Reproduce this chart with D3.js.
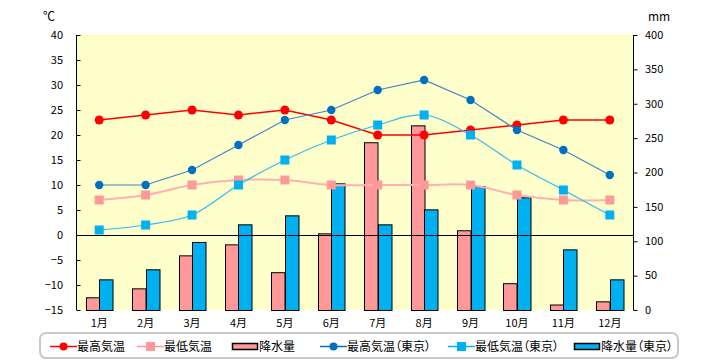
<!DOCTYPE html>
<html><head><meta charset="utf-8">
<script src="https://cdn.jsdelivr.net/npm/d3@7"></script>
<style>
body{margin:0;background:#fff;}
text{font-family:"Noto Sans CJK JP","Noto Sans",sans-serif;font-feature-settings:"palt";fill:#000;}
</style></head><body>
<svg id="c" width="720" height="360"></svg>
<script>
const months = ["1月","2月","3月","4月","5月","6月","7月","8月","9月","10月","11月","12月"];
const maxTemp = [23,24,25,24,25,23,20,20,21,22,23,23];
const minTemp = [7,8,10,11,11,10,10,10,10,8,7,7];
const precip = [18.5,31.5,79.5,95.5,55,111.5,244,268.6,116,39,8,12.6];
const maxTempTokyo = [10,10,13,18,23,25,29,31,27,21,17,12];
const minTempTokyo = [1,2,4,10,15,19,22,24,20,14,9,4];
const precipTokyo = [44.6,59.2,99,124.6,137.7,184.2,124.6,146.4,180.4,163.9,88.2,44.6];
const tempTicks = [-15,-10,-5,0,5,10,15,20,25,30,35,40];
const precipTicks = [0,50,100,150,200,250,300,350,400];
const seriesNames = ["最高気温","最低気温","降水量","最高気温（東京）","最低気温（東京）","降水量（東京）"];

const svg = d3.select("#c");
const L=76, R=633, T=35, B=310;
const x = d3.scaleBand().domain(months).range([L,R]);
const yT = d3.scaleLinear().domain([-15,40]).range([B,T]);
const yP = d3.scaleLinear().domain([0,400]).range([B,T]);

svg.append("rect").attr("x",L).attr("y",T).attr("width",R-L).attr("height",B-T).attr("fill","#FFFFCC");
svg.append("line").attr("x1",L).attr("x2",R).attr("y1",T+0.5).attr("y2",T+0.5).attr("stroke","#FFFF99");

// bars
const bw = 13.5;
const cx = m => x(m)+x.bandwidth()/2;
svg.append("g").selectAll("rect").data(precip).join("rect")
  .attr("x",(d,i)=>Math.round(cx(months[i])-bw)+0.5).attr("width",bw)
  .attr("y",d=>yP(d)+0.5).attr("height",d=>B-yP(d))
  .attr("fill","#FF9999").attr("stroke","#000").attr("stroke-width",1);
svg.append("g").selectAll("rect").data(precipTokyo).join("rect")
  .attr("x",(d,i)=>Math.round(cx(months[i]))+0.5).attr("width",bw)
  .attr("y",d=>yP(d)+0.5).attr("height",d=>B-yP(d))
  .attr("fill","#00B0F0").attr("stroke","#000").attr("stroke-width",1);

// zero line
svg.append("line").attr("x1",L).attr("x2",R).attr("y1",yT(0)+0.5).attr("y2",yT(0)+0.5).attr("stroke","#000");

// axes
const gl = svg.append("g").attr("transform",`translate(${L+0.5},0)`)
  .call(d3.axisRight(yT).tickValues(tempTicks).tickSize(4).tickFormat(""));
gl.select(".domain").remove();
svg.append("line").attr("x1",L+0.5).attr("x2",L+0.5).attr("y1",T).attr("y2",B).attr("stroke","#000");
svg.append("g").selectAll("text").data(tempTicks).join("text")
  .attr("x",63).attr("y",d=>yT(d)).attr("dy","0.35em").attr("text-anchor","end")
  .attr("font-size",11).text(d=>d<0?"−"+Math.abs(d):d);
const gr = svg.append("g").attr("transform",`translate(${R+0.5},0)`)
  .call(d3.axisRight(yP).tickValues(precipTicks).tickSize(4).tickFormat(""));
gr.select(".domain").remove();
svg.append("line").attr("x1",R+0.5).attr("x2",R+0.5).attr("y1",T).attr("y2",B).attr("stroke","#000");
svg.append("g").selectAll("text").data(precipTicks).join("text")
  .attr("x",645).attr("y",d=>yP(d)).attr("dy","0.35em").attr("text-anchor","start")
  .attr("font-size",11).text(d=>d);
svg.append("g").selectAll("text").data(months).join("text")
  .attr("x",d=>cx(d)).attr("y",323).attr("dy","0.35em").attr("text-anchor","middle")
  .attr("font-size",11).text(d=>d);
svg.append("text").attr("x",43).attr("y",21).attr("font-size",12).text("℃");
svg.append("text").attr("x",648).attr("y",21).attr("font-size",12).text("mm");

// lines
function series(vals,color,lineColor,lw,shape,smooth,size){
  const line = d3.line().x((d,i)=>cx(months[i])).y(d=>yT(d))
    .curve(smooth ? d3.curveCatmullRom.alpha(0.5) : d3.curveLinear);
  svg.append("path").datum(vals).attr("d",line).attr("fill","none").attr("stroke",lineColor).attr("stroke-width",lw);
  const g = svg.append("g");
  if(shape==="circle"){
    g.selectAll("circle").data(vals).join("circle").attr("cx",(d,i)=>cx(months[i])).attr("cy",d=>yT(d)).attr("r",size).attr("fill",color);
  } else {
    g.selectAll("rect").data(vals).join("rect").attr("x",(d,i)=>cx(months[i])-size).attr("y",d=>yT(d)-size).attr("width",size*2).attr("height",size*2).attr("fill",color);
  }
}
series(minTemp,"#FF9999","#FFB0B0",2,"square",true,4.5);
series(maxTemp,"#FF0000","#FF0000",1.5,"circle",false,4.5);
series(minTempTokyo,"#00B0F0","#33BBEE",1.2,"square",true,4.5);
series(maxTempTokyo,"#0070C0","#3F86C8",1.2,"circle",false,4.2);

// legend
svg.append("rect").attr("x",40).attr("y",333).attr("width",638).attr("height",25).attr("rx",6)
  .attr("fill","#fff").attr("stroke","#C8C8C8").attr("stroke-width",2);
const legY = 346.5;
const items = [
  {name:seriesNames[0],type:"line",color:"#FF0000",shape:"circle",x:50},
  {name:seriesNames[1],type:"line",color:"#FF9999",shape:"square",x:137},
  {name:seriesNames[2],type:"bar",color:"#FF9999",x:232},
  {name:seriesNames[3],type:"line",color:"#0070C0",shape:"circle",x:320},
  {name:seriesNames[4],type:"line",color:"#00B0F0",shape:"square",x:448},
  {name:seriesNames[5],type:"bar",color:"#00B0F0",x:574}
];
items.forEach(it=>{
  const g = svg.append("g");
  if(it.type==="line"){
    g.append("line").attr("x1",it.x).attr("x2",it.x+27).attr("y1",legY).attr("y2",legY).attr("stroke",it.color).attr("stroke-width",1.5);
    if(it.shape==="circle") g.append("circle").attr("cx",it.x+13.5).attr("cy",legY).attr("r",4).attr("fill",it.color);
    else g.append("rect").attr("x",it.x+9).attr("y",legY-4.5).attr("width",9).attr("height",9).attr("fill",it.color);
  } else {
    g.append("rect").attr("x",it.x+0.5).attr("y",legY-3).attr("width",25).attr("height",6).attr("fill",it.color).attr("stroke","#000").attr("stroke-width",1.5);
  }
  g.append("text").attr("x",it.x+27).attr("y",legY).attr("dy","0.36em").attr("font-size",12).text(it.name);
});
</script></body></html>
